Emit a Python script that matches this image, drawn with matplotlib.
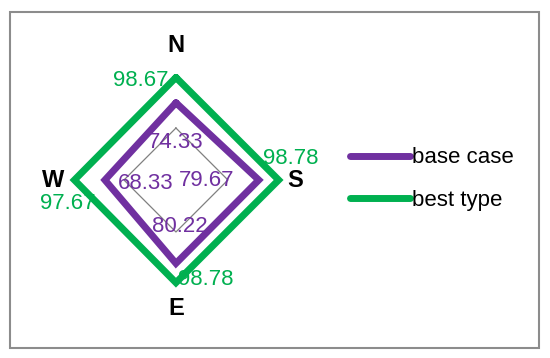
import numpy as np
import matplotlib.pyplot as plt
from matplotlib.patches import Rectangle

# data
directions = ['N', 'S', 'E', 'W']
base_case = [74.33, 79.67, 80.22, 68.33]
best_type = [98.67, 98.78, 98.78, 97.67]
series_names = ['base case', 'best type']
grid_levels = [50]

# layout: pixel offsets of the value labels (x right, y down), radius of direction labels
base_offsets = [(0, 40), (-52, 0), (4, -37), (41, 3)]
best_offsets = [(-35, 3), (12, -22), (30, -3), (-7, 23)]
dir_label_r = [129, 115, 124, 118]

purple = '#7030A0'
green = '#00B050'
fam = ['Liberation Sans', 'DejaVu Sans']
fs = 16

fig = plt.figure(figsize=(5.5, 3.58), dpi=100)
ax = fig.add_axes([0.1309, 0.2067, 0.378, 0.581], projection='polar')
ax.set_theta_offset(np.pi / 2)
ax.set_theta_direction(-1)
ax.set_ylim(0, 100)
ax.grid(False)
ax.set_xticks([])
ax.set_yticks([])
ax.spines['polar'].set_visible(False)
ax.patch.set_alpha(0)

angles = np.linspace(0, 2 * np.pi, len(directions), endpoint=False)
closed = np.append(angles, angles[0])

for lvl in grid_levels:
    ax.plot(closed, [lvl] * len(closed), color='#808080', lw=0.9, zorder=1)

for vals, col, name in [(base_case, purple, series_names[0]), (best_type, green, series_names[1])]:
    ax.plot(closed, vals + vals[:1], color=col, lw=5, label=name,
            solid_joinstyle='miter', solid_capstyle='round', clip_on=False, zorder=3)

px = 0.72  # points per pixel at 100 dpi
for a, v, (dx, dy) in zip(angles, base_case, base_offsets):
    ax.annotate(f'{v:.2f}', (a, v), xytext=(dx * px, -dy * px), textcoords='offset points',
                ha='center', va='center', color=purple, fontsize=fs, family=fam, zorder=4)
for a, v, (dx, dy) in zip(angles, best_type, best_offsets):
    ax.annotate(f'{v:.2f}', (a, v), xytext=(dx * px, -dy * px), textcoords='offset points',
                ha='center', va='center', color=green, fontsize=fs, family=fam, zorder=4,
                annotation_clip=False)

for a, d, r in zip(angles, directions, dir_label_r):
    ax.text(a, r, d, ha='center', va='center', fontsize=fs + 1, fontweight='bold',
            family=fam, color='black', clip_on=False)

leg = fig.legend(loc='center left', bbox_to_anchor=(0.636, 0.5), frameon=False,
                 prop={'family': fam, 'size': fs}, handlelength=2.7, handletextpad=0.1,
                 labelspacing=0.95, borderpad=0, borderaxespad=0)
for line in leg.get_lines():
    line.set_linewidth(5)
    line.set_solid_capstyle('round')

fig.patches.append(Rectangle((10 / 550, 10 / 358), 529 / 550, 336 / 358, transform=fig.transFigure,
                             fill=False, edgecolor='#8c8c8c', lw=1.5))

fig.savefig('out.png', dpi=100)
